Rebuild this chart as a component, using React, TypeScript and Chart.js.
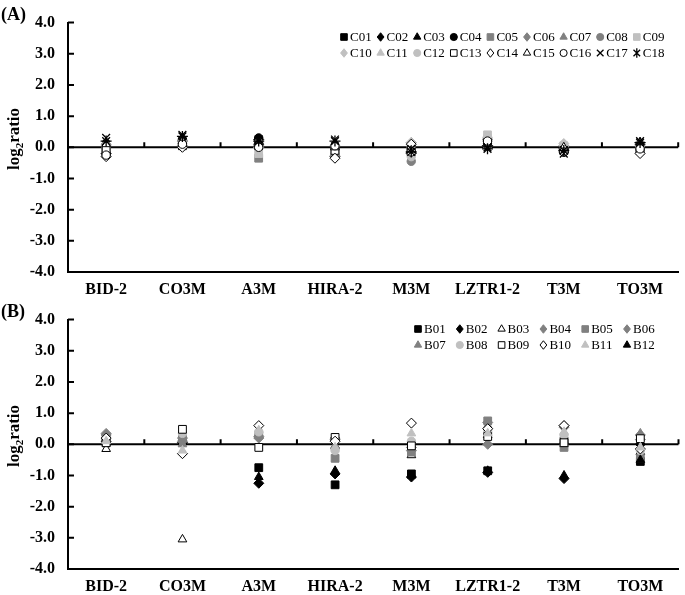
import React, { useEffect, useRef } from 'react';
import { Chart, registerables } from 'chart.js';

Chart.register(...registerables);

// ---------- data ----------
const categories = ['BID-2', 'CO3M', 'A3M', 'HIRA-2', 'M3M', 'LZTR1-2', 'T3M', 'TO3M'];
const yTickValues = [-4, -3, -2, -1, 0, 1, 2, 3, 4];

const namesA = ['C01', 'C02', 'C03', 'C04', 'C05', 'C06', 'C07', 'C08', 'C09', 'C10', 'C11', 'C12', 'C13', 'C14', 'C15', 'C16', 'C17', 'C18'];
const C01 = [-0.15, 0.15, 0.2, -0.1, -0.15, 0.1, -0.1, -0.05];
const C02 = [-0.2, 0.2, 0.25, -0.3, -0.2, 0.05, -0.15, 0.1];
const C03 = [0.05, 0.3, 0.2, -0.15, -0.1, 0.15, -0.05, -0.1];
const C04 = [-0.1, 0.25, 0.3, -0.05, -0.05, 0.2, -0.15, 0.05];
const C05 = [0.0, 0.1, -0.35, -0.2, -0.1, 0.1, -0.05, -0.05];
const C06 = [0.1, 0.05, 0.05, -0.25, 0.15, 0.25, 0.05, 0.15];
const C07 = [0.15, 0.1, 0.1, 0.1, 0.05, 0.2, 0.0, 0.1];
const C08 = [-0.05, 0.15, 0.15, -0.3, -0.45, 0.3, -0.1, 0.0];
const C09 = [0.0, 0.05, -0.2, -0.1, 0.0, 0.4, 0.05, -0.1];
const C10 = [0.05, 0.2, 0.0, 0.05, 0.15, 0.3, 0.12, 0.05];
const C11 = [0.1, 0.15, 0.05, -0.05, 0.1, 0.25, 0.1, 0.0];
const C12 = [-0.1, 0.1, 0.1, -0.15, -0.3, 0.35, 0.05, -0.05];
const C13 = [-0.05, 0.05, 0.05, -0.1, -0.05, 0.15, -0.1, -0.1];
const C14 = [-0.3, 0.0, 0.1, -0.35, 0.1, 0.05, -0.05, -0.2];
const C15 = [0.1, 0.2, 0.15, 0.0, -0.1, 0.1, 0.0, 0.15];
const C16 = [-0.25, 0.1, 0.0, 0.05, -0.15, 0.2, -0.15, -0.05];
const C17 = [0.3, 0.4, 0.25, 0.25, -0.05, 0.0, -0.2, 0.2];
const C18 = [0.2, 0.35, 0.2, 0.2, -0.15, -0.05, -0.1, 0.15];
const seriesA = [C01, C02, C03, C04, C05, C06, C07, C08, C09, C10, C11, C12, C13, C14, C15, C16, C17, C18];

const namesB = ['B01', 'B02', 'B03', 'B04', 'B05', 'B06', 'B07', 'B08', 'B09', 'B10', 'B11', 'B12'];
const B01 = [0.05, 0.1, -0.75, -1.3, -0.95, -0.85, 0.1, -0.55];
const B02 = [0.1, 0.05, -1.25, -0.95, -1.05, -0.9, -1.1, 0.0];
const B03 = [-0.15, -3.05, 0.3, -0.05, -0.35, 0.3, 0.1, -0.25];
const B04 = [0.3, 0.2, 0.2, 0.2, -0.2, 0.7, 0.55, 0.15];
const B05 = [0.2, 0.25, 0.3, -0.45, -0.25, 0.75, -0.1, -0.45];
const B06 = [0.35, 0.1, 0.25, 0.15, -0.1, 0.0, 0.6, 0.3];
const B07 = [0.3, 0.0, 0.35, -0.05, -0.15, 0.6, 0.0, 0.35];
const B08 = [0.15, 0.35, 0.4, -0.2, 0.1, 0.4, 0.3, -0.2];
const B09 = [0.05, 0.48, -0.1, 0.22, -0.05, 0.25, 0.05, 0.18];
const B10 = [0.2, -0.3, 0.6, 0.1, 0.68, 0.5, 0.6, -0.15];
const B11 = [0.1, -0.2, 0.45, -0.1, 0.35, 0.35, 0.4, -0.1];
const B12 = [null, null, -1.05, -0.85, -1.0, -0.85, -1.0, -0.5];
const seriesB = [B01, B02, B03, B04, B05, B06, B07, B08, B09, B10, B11, B12];

// ---------- styles ----------
const SERIF = "'Liberation Serif', 'Times New Roman', serif";
const BLACK = '#000000';
const GRAY = '#808080';
const LIGHT = '#c0c0c0';
const WHITE = '#ffffff';

type Shape = 'rect' | 'rectRot' | 'triangle' | 'circle' | 'crossRot' | 'star';
type MStyle = { shape: Shape; fill: string; stroke: string };

const stylesA: MStyle[] = [
  { shape: 'rect', fill: BLACK, stroke: BLACK },
  { shape: 'rectRot', fill: BLACK, stroke: BLACK },
  { shape: 'triangle', fill: BLACK, stroke: BLACK },
  { shape: 'circle', fill: BLACK, stroke: BLACK },
  { shape: 'rect', fill: GRAY, stroke: GRAY },
  { shape: 'rectRot', fill: GRAY, stroke: GRAY },
  { shape: 'triangle', fill: GRAY, stroke: GRAY },
  { shape: 'circle', fill: GRAY, stroke: GRAY },
  { shape: 'rect', fill: LIGHT, stroke: LIGHT },
  { shape: 'rectRot', fill: LIGHT, stroke: LIGHT },
  { shape: 'triangle', fill: LIGHT, stroke: LIGHT },
  { shape: 'circle', fill: LIGHT, stroke: LIGHT },
  { shape: 'rect', fill: WHITE, stroke: BLACK },
  { shape: 'rectRot', fill: WHITE, stroke: BLACK },
  { shape: 'triangle', fill: WHITE, stroke: BLACK },
  { shape: 'circle', fill: WHITE, stroke: BLACK },
  { shape: 'crossRot', fill: BLACK, stroke: BLACK },
  { shape: 'star', fill: BLACK, stroke: BLACK },
];

const stylesB: MStyle[] = [
  { shape: 'rect', fill: BLACK, stroke: BLACK },
  { shape: 'rectRot', fill: BLACK, stroke: BLACK },
  { shape: 'triangle', fill: WHITE, stroke: BLACK },
  { shape: 'rectRot', fill: GRAY, stroke: GRAY },
  { shape: 'rect', fill: GRAY, stroke: GRAY },
  { shape: 'rectRot', fill: GRAY, stroke: GRAY },
  { shape: 'triangle', fill: GRAY, stroke: GRAY },
  { shape: 'circle', fill: LIGHT, stroke: LIGHT },
  { shape: 'rect', fill: WHITE, stroke: BLACK },
  { shape: 'rectRot', fill: WHITE, stroke: BLACK },
  { shape: 'triangle', fill: LIGHT, stroke: LIGHT },
  { shape: 'triangle', fill: BLACK, stroke: BLACK },
];

type LegendLayout = { rows: number[][]; rowY: number[]; x0: number; step: number };
const legendA: LegendLayout = {
  rows: [[0, 1, 2, 3, 4, 5, 6, 7, 8], [9, 10, 11, 12, 13, 14, 15, 16, 17]],
  rowY: [37, 53],
  x0: 344,
  step: 36.6,
};
const legendB: LegendLayout = {
  rows: [[0, 1, 2, 3, 4, 5], [6, 7, 8, 9, 10, 11]],
  rowY: [32, 48],
  x0: 418,
  step: 41.8,
};

function radiusFor(shape: Shape): number {
  switch (shape) {
    case 'rect': return 5.5;
    case 'rectRot': return 5;
    case 'triangle': return 5;
    case 'circle': return 4.2;
    case 'crossRot': return 5.5;
    case 'star': return 5.5;
  }
  return 5;
}

function drawMarker(ctx: CanvasRenderingContext2D, st: MStyle, x: number, y: number, r: number) {
  ctx.save();
  ctx.beginPath();
  ctx.fillStyle = st.fill;
  ctx.strokeStyle = st.stroke;
  ctx.lineWidth = 1;
  switch (st.shape) {
    case 'rect': {
      const s = r * Math.SQRT1_2;
      ctx.rect(x - s, y - s, 2 * s, 2 * s);
      break;
    }
    case 'rectRot': {
      ctx.moveTo(x, y - r);
      ctx.lineTo(x + r * 0.8, y);
      ctx.lineTo(x, y + r);
      ctx.lineTo(x - r * 0.8, y);
      ctx.closePath();
      break;
    }
    case 'triangle': {
      let a = 0;
      ctx.moveTo(x + Math.sin(a) * r, y - Math.cos(a) * r);
      a += (2 * Math.PI) / 3;
      ctx.lineTo(x + Math.sin(a) * r, y - Math.cos(a) * r);
      a += (2 * Math.PI) / 3;
      ctx.lineTo(x + Math.sin(a) * r, y - Math.cos(a) * r);
      ctx.closePath();
      break;
    }
    case 'circle':
      ctx.arc(x, y, r, 0, Math.PI * 2);
      break;
    case 'crossRot':
    case 'star': {
      const d = r * Math.SQRT1_2;
      ctx.moveTo(x - d, y - d);
      ctx.lineTo(x + d, y + d);
      ctx.moveTo(x - d, y + d);
      ctx.lineTo(x + d, y - d);
      if (st.shape === 'star') {
        ctx.moveTo(x, y - r);
        ctx.lineTo(x, y + r);
      }
      ctx.lineWidth = 1.3;
      ctx.stroke();
      ctx.restore();
      return;
    }
  }
  ctx.fill();
  ctx.stroke();
  ctx.restore();
}

function makeDecorPlugin(panelLabel: string, names: string[], styles: MStyle[], legend: LegendLayout) {
  return {
    id: 'decor' + panelLabel,
    beforeDatasetsDraw(chart: any) {
      const { ctx, chartArea, scales } = chart;
      const y0 = scales.y.getPixelForValue(0);
      ctx.save();
      ctx.strokeStyle = BLACK;
      ctx.lineWidth = 2;
      ctx.beginPath();
      ctx.moveTo(chartArea.left, y0);
      ctx.lineTo(chartArea.right, y0);
      ctx.stroke();
      const n = categories.length;
      ctx.beginPath();
      for (let i = 1; i <= n; i++) {
        const x = chartArea.left + (i * (chartArea.right - chartArea.left)) / n;
        ctx.moveTo(x, y0 - 5);
        ctx.lineTo(x, y0);
      }
      ctx.stroke();
      ctx.restore();
    },
    afterDraw(chart: any) {
      const { ctx, chartArea, scales } = chart;
      ctx.save();
      // inward y ticks
      ctx.strokeStyle = BLACK;
      ctx.lineWidth = 2;
      ctx.beginPath();
      for (const v of yTickValues) {
        const y = scales.y.getPixelForValue(v);
        ctx.moveTo(chartArea.left, y);
        ctx.lineTo(chartArea.left + 6, y);
      }
      ctx.stroke();

      // panel label
      ctx.fillStyle = BLACK;
      ctx.font = `bold 18px ${SERIF}`;
      ctx.textAlign = 'left';
      ctx.textBaseline = 'middle';
      ctx.fillText(panelLabel, 1, 15);

      // y-axis title with subscript
      ctx.save();
      ctx.translate(14, 139);
      ctx.rotate(-Math.PI / 2);
      const big = `bold 17px ${SERIF}`;
      const small = `bold 11px ${SERIF}`;
      ctx.font = big;
      const w1 = ctx.measureText('log').width;
      const w3 = ctx.measureText('ratio').width;
      ctx.font = small;
      const w2 = ctx.measureText('2').width;
      const total = w1 + w2 + w3;
      let x = -total / 2;
      ctx.textBaseline = 'alphabetic';
      ctx.textAlign = 'left';
      ctx.font = big;
      ctx.fillText('log', x, 5);
      x += w1;
      ctx.font = small;
      ctx.fillText('2', x, 9);
      x += w2;
      ctx.font = big;
      ctx.fillText('ratio', x, 5);
      ctx.restore();

      // legend
      ctx.font = `13px ${SERIF}`;
      ctx.textAlign = 'left';
      ctx.textBaseline = 'middle';
      ctx.fillStyle = BLACK;
      legend.rows.forEach((row, ri) => {
        const y = legend.rowY[ri];
        row.forEach((di, ci) => {
          const mx = legend.x0 + ci * legend.step;
          drawMarker(ctx, styles[di], mx, y, radiusFor(styles[di].shape) * 0.85);
          ctx.fillStyle = BLACK;
          ctx.fillText(names[di], mx + 6, y + 1);
        });
      });
      ctx.restore();
    },
  };
}

function buildChart(canvas: HTMLCanvasElement, panelLabel: string, names: string[], series: (number | null)[][], styles: MStyle[], legend: LegendLayout) {
  const n = series.length;
  const datasets = series.map((vals, i) => {
    const st = styles[i];
    const isLine = st.shape === 'crossRot' || st.shape === 'star';
    return {
      label: names[i],
      data: vals,
      showLine: false,
      pointStyle: st.shape,
      pointRadius: radiusFor(st.shape),
      pointBackgroundColor: st.fill,
      pointBorderColor: st.stroke,
      pointBorderWidth: isLine ? 1.3 : 1,
      backgroundColor: st.fill,
      borderColor: st.stroke,
      order: n - i,
    };
  });
  return new Chart(canvas, {
    type: 'line',
    data: { labels: categories, datasets },
    plugins: [makeDecorPlugin(panelLabel, names, styles, legend)],
    options: {
      animation: false,
      responsive: false,
      events: [],
      clip: false as any,
      layout: { padding: { top: 20, right: 4, left: 0, bottom: 0 } },
      plugins: { legend: { display: false }, tooltip: { enabled: false } },
      scales: {
        x: {
          type: 'category',
          offset: true,
          grid: { display: false, drawTicks: false },
          border: { display: true, color: BLACK, width: 2 },
          ticks: {
            color: BLACK,
            font: { family: SERIF, size: 16, weight: 'bold' },
            padding: 8,
            maxRotation: 0,
            autoSkip: false,
          },
          afterFit: (scale: any) => { scale.height = 25; },
        },
        y: {
          min: -4,
          max: 4,
          grid: { display: false, drawTicks: false },
          border: { display: true, color: BLACK, width: 2 },
          ticks: {
            stepSize: 1,
            color: BLACK,
            padding: 13,
            font: { family: SERIF, size: 16, weight: 'bold' },
            callback: (v: any) => Number(v).toFixed(1),
          },
          afterFit: (scale: any) => { scale.width = 68; },
        },
      },
    } as any,
  });
}

function Panel(props: { label: string; names: string[]; series: (number | null)[][]; styles: MStyle[]; legend: LegendLayout; top: number }) {
  const ref = useRef<HTMLCanvasElement | null>(null);
  useEffect(() => {
    if (!ref.current) return;
    const chart = buildChart(ref.current, props.label, props.names, props.series, props.styles, props.legend);
    return () => chart.destroy();
  }, []);
  return (
    <div style={{ position: 'absolute', left: 0, top: props.top, width: 685, height: 297 }}>
      <canvas ref={ref} width={685} height={297} style={{ width: 685, height: 297, display: 'block' }} />
    </div>
  );
}

export default function App() {
  return (
    <div style={{ position: 'absolute', left: 0, top: 0, width: 685, height: 595, background: '#ffffff', overflow: 'hidden' }}>
      <Panel label="(A)" names={namesA} series={seriesA} styles={stylesA} legend={legendA} top={0} />
      <Panel label="(B)" names={namesB} series={seriesB} styles={stylesB} legend={legendB} top={297} />
    </div>
  );
}
